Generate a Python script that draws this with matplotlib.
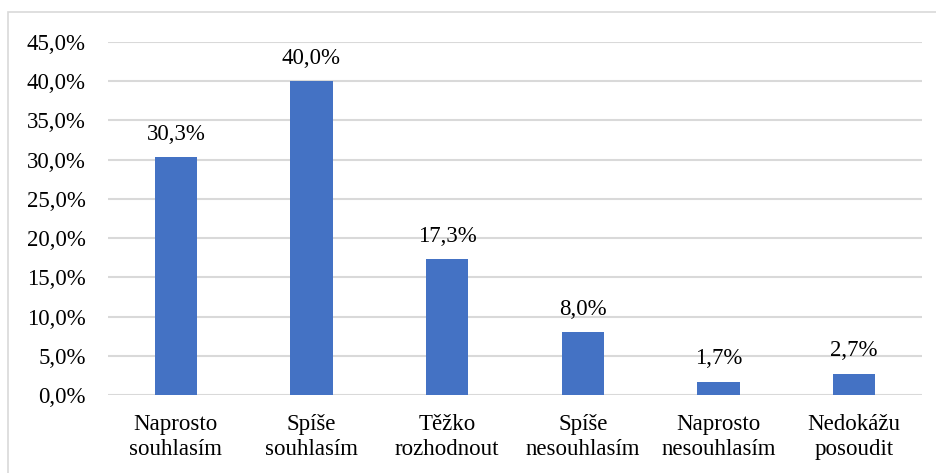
import matplotlib
matplotlib.use("Agg")
import matplotlib.pyplot as plt
from matplotlib.patches import Rectangle

categories = ["Naprosto\nsouhlasím", "Spíše\nsouhlasím", "Těžko\nrozhodnout",
              "Spíše\nnesouhlasím", "Naprosto\nnesouhlasím", "Nedokážu\nposoudit"]
values = [30.3, 40.0, 17.3, 8.0, 1.7, 2.7]
yticks = [0, 5, 10, 15, 20, 25, 30, 35, 40, 45]

plt.rcParams['font.family'] = ['Liberation Serif', 'DejaVu Serif']
fs = 16.5

fig = plt.figure(figsize=(9.36, 4.73), dpi=100)
# chart frame; its right and bottom edges run past the canvas
fig.patches.append(Rectangle((8/936, -10/473), 940/936, 471/473, transform=fig.transFigure,
                             fill=False, edgecolor='#d9d9d9', linewidth=1.2))
ax = fig.add_axes([108/936, 1 - 395/473, 814/936, 353/473])

x = list(range(len(categories)))
bars = ax.bar(x, values, width=0.31, color='#4472C4', zorder=3)
for xi, v in zip(x, values):
    ax.annotate(f"{v:.1f}%".replace('.', ','), (xi, v), xytext=(0, 9),
                textcoords='offset points', ha='center', va='bottom', fontsize=fs)

ax.set_xlim(-0.5, len(categories) - 0.5)
ax.set_ylim(0, 45)
ax.set_yticks(yticks)
ax.set_yticklabels([f"{t:.1f}%".replace('.', ',') for t in yticks], fontsize=fs)
ax.set_xticks(x)
ax.set_xticklabels(categories, fontsize=fs, linespacing=1.25)
ax.tick_params(axis='both', length=0)
ax.tick_params(axis='x', pad=14)
ax.tick_params(axis='y', pad=16)
ax.grid(axis='y', color='#d9d9d9', linewidth=1.5, zorder=0)
for s in ax.spines.values():
    s.set_visible(False)

fig.savefig("out.png", dpi=100)
